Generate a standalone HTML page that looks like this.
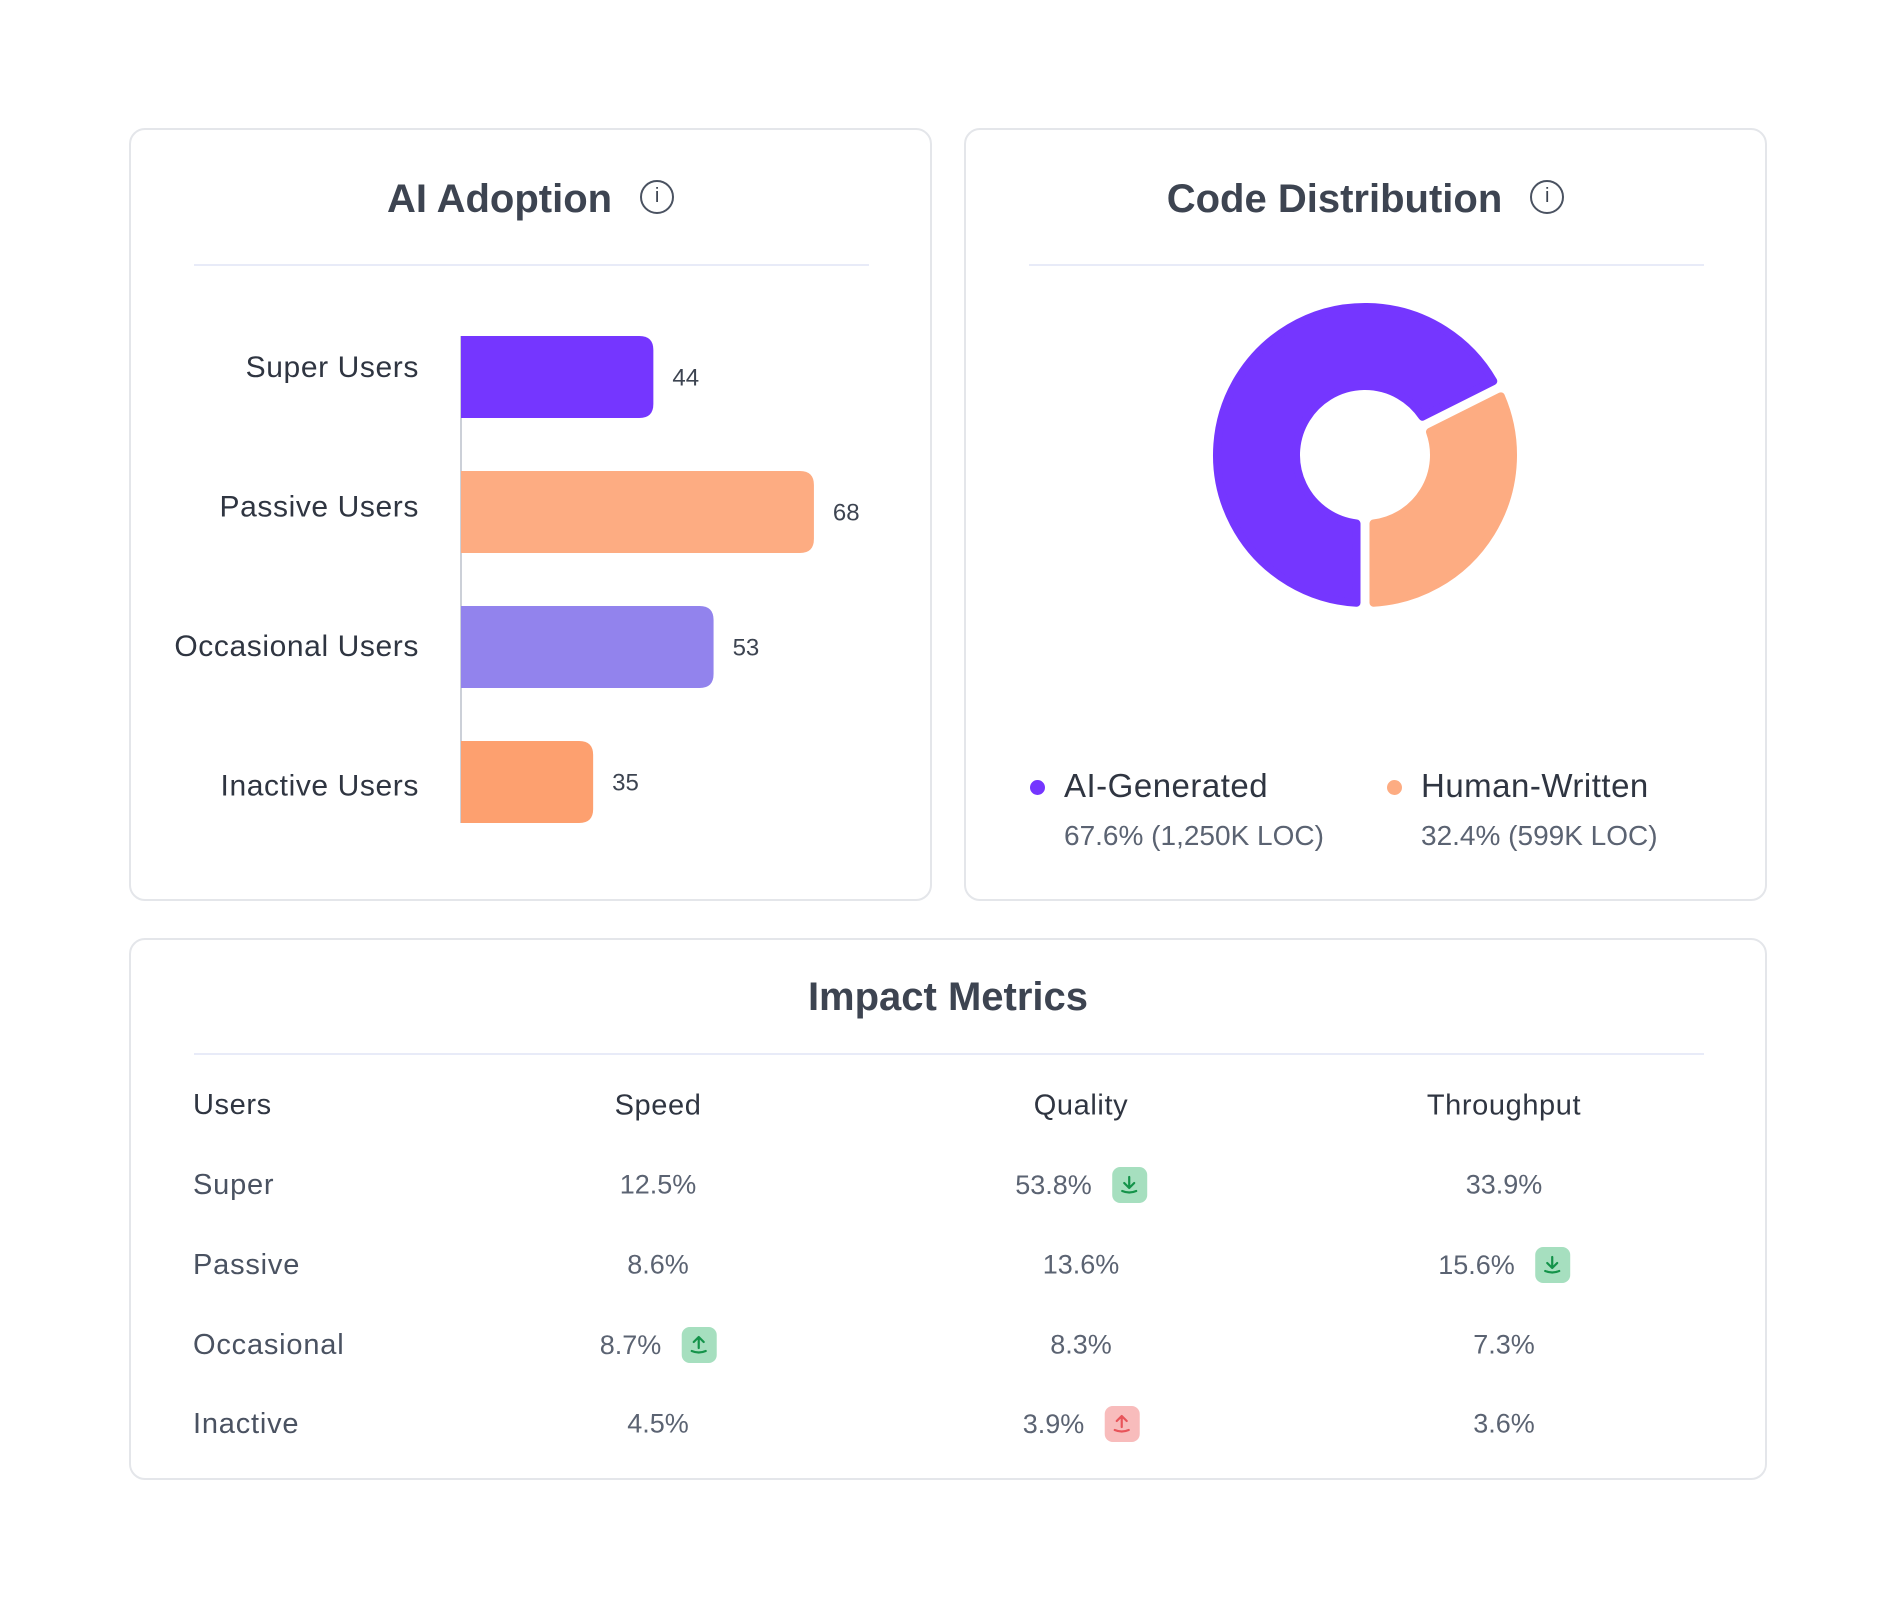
<!DOCTYPE html>
<html><head><meta charset="utf-8"><style>
body{margin:0;width:1896px;height:1608px;background:#fff;position:relative;font-family:"Liberation Sans",sans-serif;overflow:hidden}
.card{position:absolute;border:2px solid #e4e6ea;border-radius:16px;box-sizing:border-box;background:#fff}
.title{position:absolute;left:0;right:0;text-align:center;font-weight:bold;font-size:40px;color:#3d4451}
.div{position:absolute;height:2px;background:#e8ebf8}
.t{position:absolute;white-space:nowrap}
.hdr{font-size:29px;color:#2f3541;letter-spacing:0.6px}
.val{font-size:27px;color:#5b6372}
.cell{position:absolute;display:flex;align-items:center;justify-content:center;gap:20px;transform:translate(-50%,-50%)}
.badge{width:35px;height:36px;border-radius:8px;display:flex;align-items:center;justify-content:center}
.info{display:inline-block;width:34px;height:34px;border:2.5px solid #4a5261;border-radius:50%;box-sizing:border-box;font-size:20px;line-height:29px;text-align:center;font-weight:normal;vertical-align:middle;margin-left:28px;position:relative;top:-4px}
</style></head><body>
<div class="card" style="left:129px;top:128px;width:803px;height:773px">
  <div class="title" style="top:47px">AI Adoption<span class="info">i</span></div>
  <div class="div" style="left:63px;width:675px;top:134px"></div>
</div>
<svg id="bars" width="1896" height="1608" style="position:absolute;left:0;top:0;pointer-events:none"></svg>

<div class="card" style="left:964px;top:128px;width:803px;height:773px">
  <div class="title" style="top:47px">Code Distribution<span class="info">i</span></div>
  <div class="div" style="left:63px;width:675px;top:134px"></div>
  <div class="t" style="left:64px;top:650px;width:15px;height:15px;border-radius:50%;background:#7536ff"></div>
  <div class="t" style="left:98px;top:637px;font-size:33px;color:#2f3541;letter-spacing:0.5px">AI-Generated</div>
  <div class="t" style="left:98px;top:690px;font-size:28px;color:#5b6372">67.6% (1,250K LOC)</div>
  <div class="t" style="left:421px;top:650px;width:15px;height:15px;border-radius:50%;background:#fdac82"></div>
  <div class="t" style="left:455px;top:637px;font-size:33px;color:#2f3541;letter-spacing:0.5px">Human-Written</div>
  <div class="t" style="left:455px;top:690px;font-size:28px;color:#5b6372">32.4% (599K LOC)</div>
</div>
<svg id="donut" width="1896" height="1608" style="position:absolute;left:0;top:0;pointer-events:none"></svg>

<div class="card" style="left:129px;top:938px;width:1638px;height:542px">
  <div class="title" style="top:35px">Impact Metrics</div>
  <div class="div" style="left:63px;width:1510px;top:113px"></div>
</div>
<div id="table"></div>

<script>
const NS='http://www.w3.org/2000/svg';
function mk(tag,attrs,parent){const e=document.createElementNS(NS,tag);for(const k in attrs)e.setAttribute(k,attrs[k]);parent.appendChild(e);return e;}
// ---- bar chart data ----
const barCategories=['Super Users','Passive Users','Occasional Users','Inactive Users'];
const barValues=[44,68,53,35];
const barColors=['#7536ff','#fdac82','#9283ed','#fda06f'];
const bsvg=document.getElementById('bars');
const x0=461, pxPerUnit=5.19, rowTop=336, rowStep=135, barH=82;
const xScale=v=>x0+(v*pxPerUnit-(v<68?(68-v)*1.5:0));
const yScale=i=>rowTop+i*rowStep;
const labelY=i=>369+i*139.5;
const axis=mk('line',{x1:x0,x2:x0,y1:yScale(0),y2:yScale(3)+barH,stroke:'#ccd0d8','stroke-width':2},bsvg);


barValues.forEach((v,i)=>{
  const y=yScale(i), x1=xScale(v), r=14;
  const p=mk('path',{d:`M${x0} ${y}H${x1-r}Q${x1} ${y} ${x1} ${y+r}V${y+barH-r}Q${x1} ${y+barH} ${x1-r} ${y+barH}H${x0}Z`,fill:barColors[i]},bsvg);
  
  
  const l=mk('text',{x:419,y:labelY(i),'text-anchor':'end','dominant-baseline':'middle','font-size':30,fill:'#2f3541','letter-spacing':0.6,'font-family':'Liberation Sans, sans-serif'},bsvg);
  l.textContent=barCategories[i];
  
  
  const t=mk('text',{x:x1+19,y:y+barH/2+2,'dominant-baseline':'middle','font-size':24,fill:'#3d4451','font-family':'Liberation Sans, sans-serif'},bsvg);
  t.textContent=v;
  
  
});
// ---- donut data ----
const sliceLabels=['AI-Generated','Human-Written'];
const sliceValues=[67.6,32.4];
const sliceColors=['#7536ff','#fdac82'];
const dsvg=document.getElementById('donut');
const cx=1365,cy=455,R=148,r=69,gap=17;
const total=sliceValues.reduce((a,b)=>a+b,0);
let start=Math.PI;
function pt(rad,a){return [cx+rad*Math.sin(a),cy-rad*Math.cos(a)];}
sliceValues.forEach((v,i)=>{
  const sweep=v/total*Math.PI*2, a0=start, a1=start+sweep; start=a1;
  const po=gap/2/R, pi=gap/2/r;
  const o0=pt(R,a0+po),o1=pt(R,a1-po),i1=pt(r,a1-pi),i0=pt(r,a0+pi);
  const large=sweep>Math.PI?1:0;
  const p=mk('path',{d:`M${o0}A${R} ${R} 0 ${large} 1 ${o1}L${i1}A${r} ${r} 0 ${large} 0 ${i0}Z`,fill:sliceColors[i],stroke:sliceColors[i],'stroke-width':8,'stroke-linejoin':'round'},dsvg);
  
  
});
// ---- table ----
const colHeaders=['Users','Speed','Quality','Throughput'];
const rowNames=['Super','Passive','Occasional','Inactive'];
const speedVals=['12.5%','8.6%','8.7%','4.5%'];
const qualityVals=['53.8%','13.6%','8.3%','3.9%'];
const throughputVals=['33.9%','15.6%','7.3%','3.6%'];
const badges={ '0-2':'down-green','1-3':'down-green','2-1':'up-green','3-2':'up-red'};
const colX=[193,658,1081,1504], headerY=1105, rowY=[1185,1265,1345,1424];
const tb=document.getElementById('table');
function icon(kind){
  const green=kind.indexOf('green')>=0, col=green?'#14934a':'#e8545a', bg=green?'#a6dfbf':'#f8bcbc';
  const arrow=kind.startsWith('down')?'M12 4V14M7 10L12 15L17 10':'M12 15V5M7 9L12 4L17 9';
  return `<div class="badge" style="background:${bg}"><svg width="24" height="24" viewBox="0 0 24 24" fill="none" stroke="${col}" stroke-width="2.2" stroke-linecap="round" stroke-linejoin="round"><path d="${arrow}"/><path d="M5 18Q12 21 19 18"/></svg></div>`;
}
colHeaders.forEach((h,c)=>{
  const d=document.createElement('div');
  d.className=c===0?'t hdr':'cell hdr';
  d.style.left=colX[c]+'px';d.style.top=(c===0?headerY-16:headerY+1)+'px';
  d.textContent=h;
  
  
  tb.appendChild(d);
});
const cols=[speedVals,qualityVals,throughputVals];
rowNames.forEach((n,ri)=>{
  const d=document.createElement('div');
  d.className='t';d.style.cssText=`left:${colX[0]}px;top:${rowY[ri]-16}px;font-size:29px;color:#4a5261;letter-spacing:0.8px`;
  d.textContent=n;
  
  
  tb.appendChild(d);
  cols.forEach((arr,ci)=>{
    const c=document.createElement('div');
    c.className='cell val';c.style.left=colX[ci+1]+'px';c.style.top=rowY[ri]+'px';
    const b=badges[ri+'-'+(ci+1)];
    c.innerHTML='<span>'+arr[ri]+'</span>'+(b?icon(b):'');
    
    
    tb.appendChild(c);
  });
});
</script>
</body></html>
